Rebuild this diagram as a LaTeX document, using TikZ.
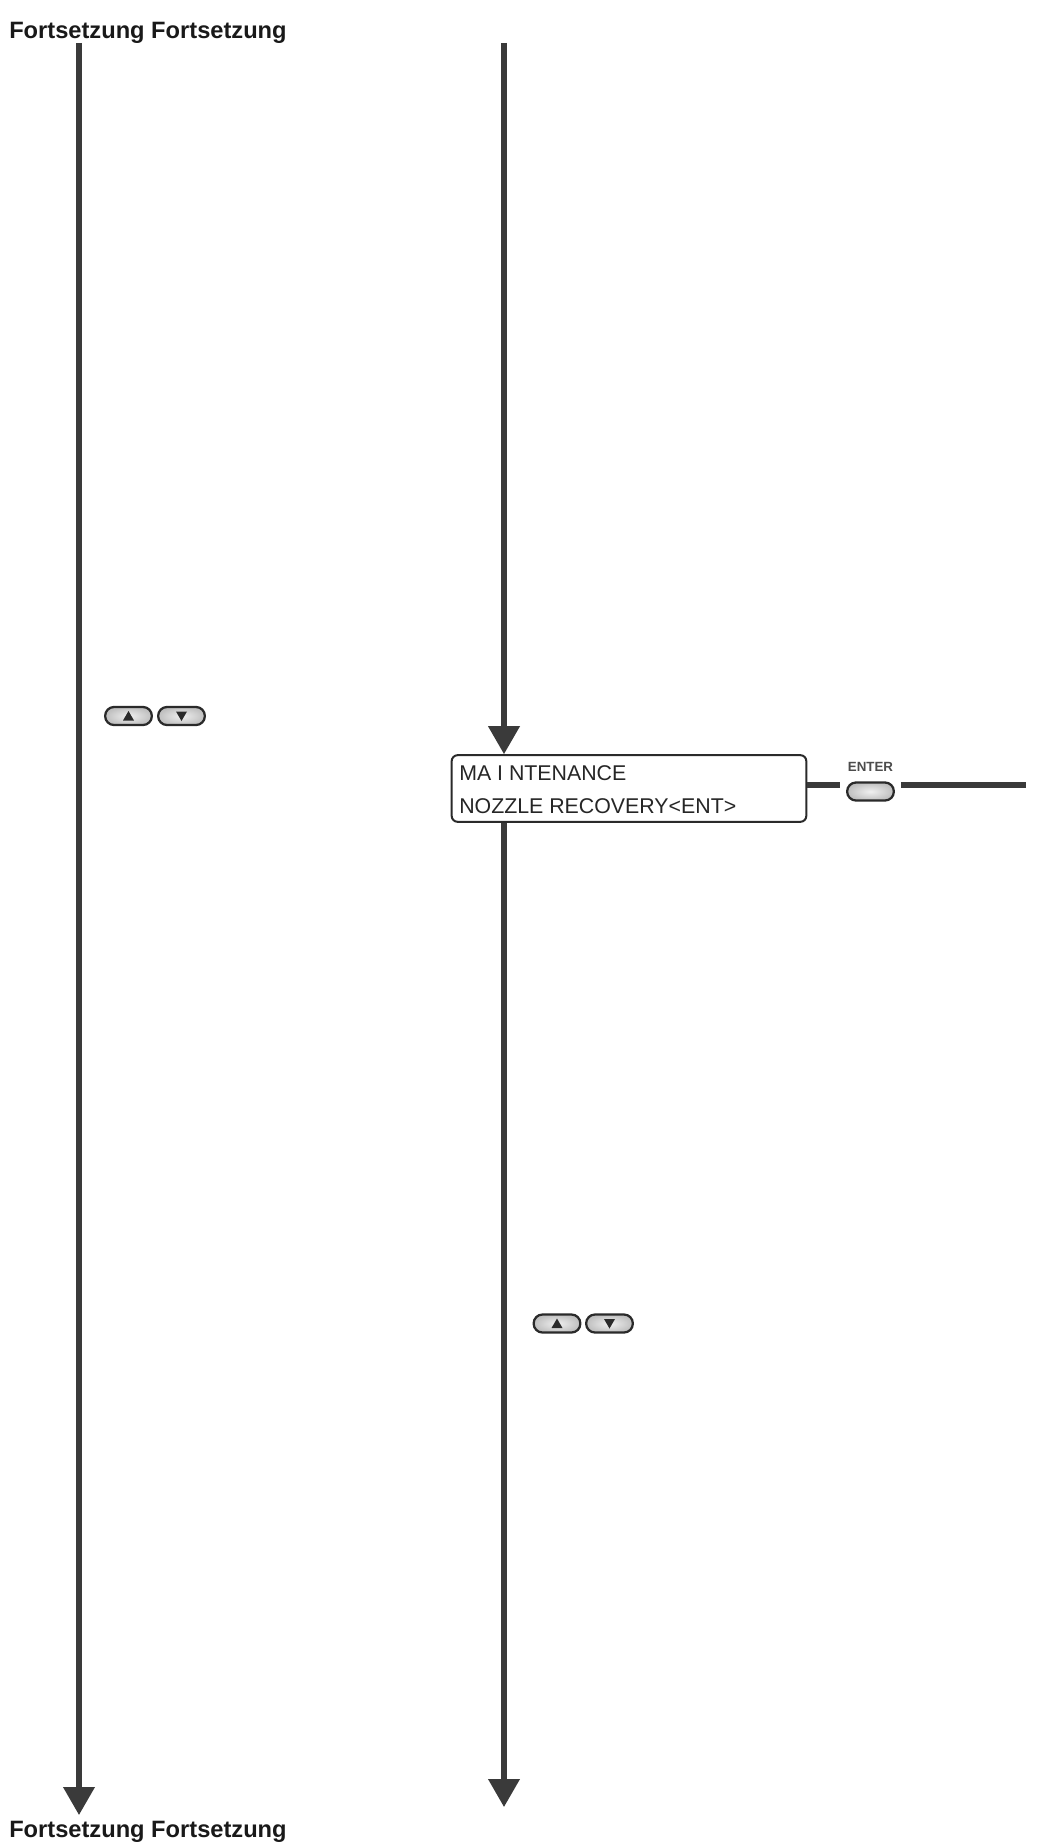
\documentclass[tikz,border=0pt]{standalone}
\usepackage{fontspec}
\setmainfont{Liberation Sans}
\usetikzlibrary{arrows.meta,shadings}
\definecolor{ink}{HTML}{3A3A3A}
\definecolor{panel}{HTML}{2A2A2A}
\tikzset{
  flow/.style={draw=ink,line width=3.8pt,-{Triangle[length=21pt,width=23pt,fill=ink]}},
  plain/.style={draw=ink,line width=3.8pt},
  title/.style={font=\bfseries\fontsize{17.75pt}{20pt}\selectfont,text=black!90,inner sep=0pt,anchor=west},
  lcd/.style={draw=panel,line width=1.5pt,rounded corners=4.5pt,fill=white,minimum width=266pt,minimum height=50pt,inner sep=0pt},
  lcdtext/.style={font=\fontsize{16pt}{22pt}\selectfont,text=black!85,inner sep=0pt,anchor=west},
  key/.style={draw=panel,line width=1.7pt,rounded corners=6.6pt,minimum width=35pt,minimum height=13.5pt,inner sep=0pt,inner color=black!6,outer color=black!25},
  keylabel/.style={font=\bfseries\fontsize{10pt}{11pt}\selectfont,text=black!70,inner sep=0pt}
}
\begin{document}
\begin{tikzpicture}[x=0.75pt,y=-0.75pt]
\useasboundingbox (0,0) rectangle (1037,1848);
\node[title] (topt) at (9,33) {Fortsetzung Fortsetzung};
\node[title] (bott) at (9,1832) {Fortsetzung Fortsetzung};
\coordinate (ltop) at (79,43);
\coordinate (lend) at (79,1815);
\coordinate (rtop) at (504,43);
\coordinate (rend) at (504,1807);
\coordinate (out) at (1026,785);
\node[lcd] (box) at (629,788.5) {};
\node[lcdtext] (l1) at (459,773) {MA I NTENANCE};
\node[lcdtext] (l2) at (459,806) {NOZZLE RECOVERY<ENT>};
\node[key] (ent) at (870.5,791.5) {};
\node[keylabel] (entl) at (870.5,767) {ENTER};
\node[key] (up1) at (128.5,716) {};
\node[key] (dn1) at (181.5,716) {};
\node[key] (up2) at (557,1323.5) {};
\node[key] (dn2) at (609.5,1323.5) {};
\foreach \n in {up1,up2}{\fill[panel] ([shift={(-5.5,4.5)}]\n.center) -- ([shift={(5.5,4.5)}]\n.center) -- ([shift={(0,-5)}]\n.center) -- cycle;}
\foreach \n in {dn1,dn2}{\fill[panel] ([shift={(-5.5,-4.5)}]\n.center) -- ([shift={(5.5,-4.5)}]\n.center) -- ([shift={(0,5)}]\n.center) -- cycle;}
\draw[flow] (ltop) -- (lend);
\draw[flow] (rtop) -- (box.north -| rtop);
\draw[flow] (box.south -| rtop) -- (rend);
\draw[plain] (box.east |- out) -- ([xshift=-4.5pt]ent.west |- out);
\draw[plain] ([xshift=4.5pt]ent.east |- out) -- (out);
\end{tikzpicture}
\end{document}
